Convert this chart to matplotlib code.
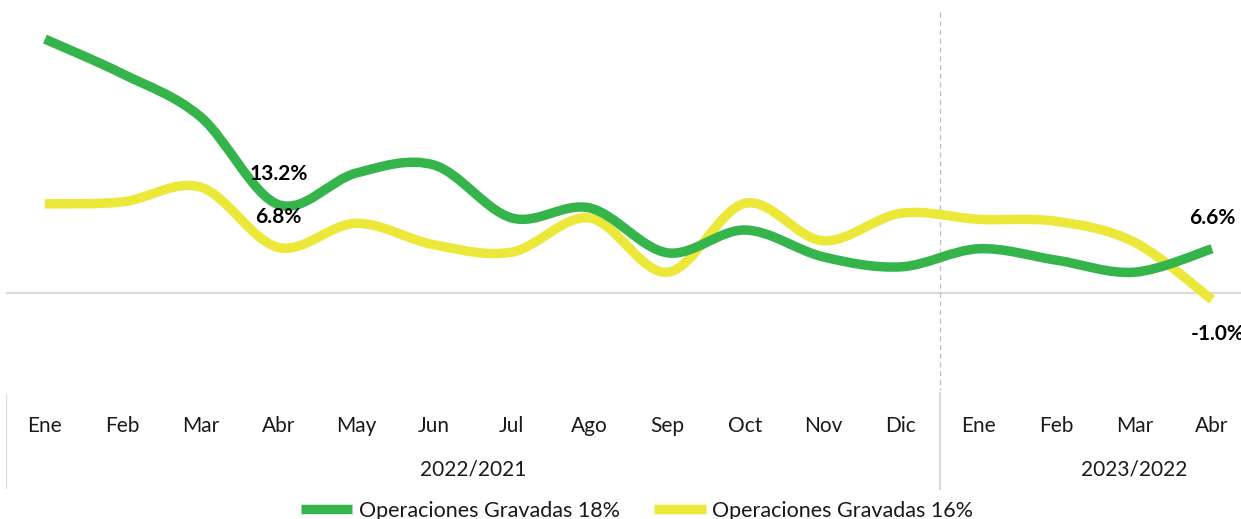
import numpy as np
import matplotlib
matplotlib.use("Agg")
import matplotlib.pyplot as plt
from matplotlib.path import Path
from matplotlib.patches import PathPatch
from matplotlib.lines import Line2D
import matplotlib.transforms as mtransforms

plt.rcParams['font.family'] = ['Lato', 'DejaVu Sans']

# datos
meses = ["Ene", "Feb", "Mar", "Abr", "May", "Jun", "Jul", "Ago",
         "Sep", "Oct", "Nov", "Dic", "Ene", "Feb", "Mar", "Abr"]
periodos = ["2022/2021", "2023/2022"]
n_periodo1 = 12
grav_18 = [37.9, 32.7, 26.3, 13.2, 17.9, 19.1, 11.2, 12.7,
           6.0, 9.4, 5.4, 3.9, 6.6, 4.9, 3.1, 6.6]
grav_16 = [13.3, 13.6, 15.8, 6.8, 10.4, 7.2, 6.1, 11.2,
           3.1, 13.4, 7.8, 11.9, 11.0, 10.7, 7.6, -1.0]
etiquetas = {"grav_18": [(3, "13.2%"), (15, "6.6%")],
             "grav_16": [(3, "6.8%"), (15, "-1.0%")]}

VERDE = "#35B44B"
AMARILLO = "#EBE83A"
W, H = 1241, 519


def curva_suave(x, y):
    """Path Bezier tipo Excel (linea suavizada)"""
    pts = np.column_stack([x, y]).astype(float)
    n = len(pts)
    verts = [pts[0]]
    codes = [Path.MOVETO]
    for i in range(n - 1):
        p0 = pts[i - 1] if i > 0 else pts[i]
        p1 = pts[i]
        p2 = pts[i + 1]
        p3 = pts[i + 2] if i + 2 < n else pts[i + 1]
        c1 = p1 + (p2 - p0) / 6.0
        c2 = p2 - (p3 - p1) / 6.0
        verts += [c1, c2, p2]
        codes += [Path.CURVE4] * 3
    return Path(verts, codes)


fig = plt.figure(figsize=(W / 100, H / 100), dpi=100)
# ejes: x 6..1251 px, y 0..490 px (desde arriba)
ax = fig.add_axes([6 / W, 1 - 490 / H, 1245 / W, 490 / H])
ax.set_xlim(-0.5, len(meses) - 0.5)
px = 6.7
ax.set_ylim((293 - 490) / px, 293 / px)
ax.axis("off")

x = np.arange(len(meses))

ax.axhline(0, color="#D9D9D9", lw=1.6, zorder=1)

for serie, color in [(grav_16, AMARILLO), (grav_18, VERDE)]:
    patch = PathPatch(curva_suave(x, serie), facecolor="none", edgecolor=color,
                      lw=6.8, capstyle="butt", joinstyle="round", zorder=3)
    ax.add_patch(patch)

# etiquetas de valores
for nombre, serie in [("grav_18", grav_18), ("grav_16", grav_16)]:
    for i, txt in etiquetas[nombre]:
        if serie[i] < 0:
            dx, dy = 4, -25
        else:
            dx, dy = 0, 22
        ax.annotate(txt, (x[i], serie[i]), xytext=(dx, dy), textcoords="offset points",
                    ha="center", va="center", fontsize=15, fontweight="bold",
                    color="black", zorder=5)

# divisor entre periodos
div = n_periodo1 - 0.5
trans = mtransforms.blended_transform_factory(ax.transData, ax.transAxes)
ax.add_line(Line2D([div, div], [1 - 12 / 490, 1 - 390 / 490], transform=trans,
                   color="#BFBFBF", lw=0.9, ls=(0, (4, 3))))
ax.add_line(Line2D([div, div], [1 - 393 / 490, 0], transform=trans,
                   color="#D9D9D9", lw=1.6))
ax.add_line(Line2D([-0.5, -0.5], [1 - 395 / 490, 1 - 488 / 490], transform=trans,
                   color="#D9D9D9", lw=1.6))

# meses y periodos
for i, m in enumerate(meses):
    ax.text(x[i], 1 - 426 / 490, m, transform=trans, ha="center", va="center",
            fontsize=15, color="#1a1a1a")
ax.text((-0.5 + div) / 2, 1 - 470 / 490, periodos[0], transform=trans,
        ha="center", va="center", fontsize=15, color="#1a1a1a")
ax.text(14.0, 1 - 470 / 490, periodos[1], transform=trans,
        ha="center", va="center", fontsize=15, color="#1a1a1a")

# leyenda
handles = [Line2D([], [], color=VERDE, lw=6.8, solid_capstyle="butt"),
           Line2D([], [], color=AMARILLO, lw=6.8, solid_capstyle="butt")]
fig.legend(handles, ["Operaciones Gravadas 18%", "Operaciones Gravadas 16%"],
           loc="center", bbox_to_anchor=(637 / W, 1 - 511 / H), ncol=2, frameon=False,
           fontsize=15.5, handlelength=2.4, handletextpad=0.3, columnspacing=1.6,
           labelcolor="#1a1a1a")

fig.savefig("out.png", dpi=100)
